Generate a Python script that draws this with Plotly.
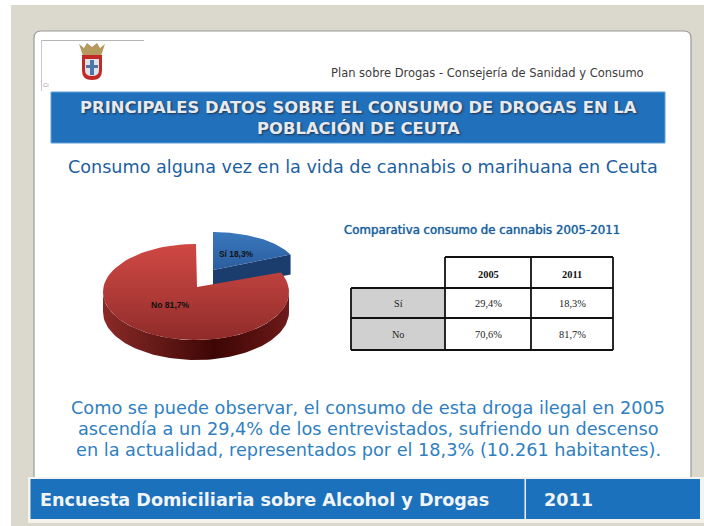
import numpy as np
import plotly.graph_objects as go

W, H = 704, 526
pie_labels = ["Sí", "No"]
pie_values = [18.3, 81.7]
pie_text = ["Sí 18,3%", "No 81,7%"]
table_columns = ["2005", "2011"]
table_rows = ["Sí", "No"]
table_2005 = ["29,4%", "70,6%"]
table_2011 = ["18,3%", "81,7%"]

fig = go.Figure()
shapes, ann = [], []

def rect(x0, y0, x1, y1, fill, line=None, lw=0):
    shapes.append(dict(type="rect", x0=x0, y0=y0, x1=x1, y1=y1, fillcolor=fill,
                       line=dict(color=line or fill, width=lw), layer="below"))

def text(x, y, s, size, color, family="DejaVu Sans", anchor="center", bold=False, shadow=None):
    f = dict(size=size, color=color, family=family)
    if bold: f["weight"] = "bold"
    if shadow: f["shadow"] = shadow
    ann.append(dict(x=x, y=y, text=s, showarrow=False, font=f, xanchor=anchor, yanchor="middle",
                    xref="x", yref="y"))

# page background and card
rect(11, 5, W, H, "#dbd8cd")
shapes.append(dict(type="path", layer="below", fillcolor="#ffffff", line=dict(color="#9a9a98", width=1.2),
                   path="M34,480 L34,38 Q34,31 41,31 L684,31 Q691,31 691,38 L691,480 Z"))
# logo box lines
shapes.append(dict(type="line", x0=41, y0=40.5, x1=144, y1=40.5, line=dict(color="#b5b5b5", width=1), layer="below"))
shapes.append(dict(type="line", x0=41.5, y0=40, x1=41.5, y1=91, line=dict(color="#c8c8c8", width=1), layer="below"))
text(46, 85, "Ci", 6, "#9a9a9a", "Liberation Sans")
# crest
shapes.append(dict(type="path", layer="below", fillcolor="#b49a5c", line=dict(width=0),
                   path="M79,44 L84,48 L87,43 L92,47 L97,43 L100,48 L105,44 L101,56 L83,56 Z"))
shapes.append(dict(type="path", layer="below", fillcolor="#c22a28", line=dict(width=0),
                   path="M82,55 L102,55 L102,71 Q102,80 92,80 Q82,80 82,71 Z"))
shapes.append(dict(type="path", layer="below", fillcolor="#dfe4ea", line=dict(width=0),
                   path="M85,59 L99,59 L99,70 Q99,76 92,76 Q85,76 85,70 Z"))
shapes.append(dict(type="path", layer="below", fillcolor="#4f74a8", line=dict(width=0),
                   path="M90,60 L94,60 L94,65 L98,65 L98,68 L94,68 L94,75 L90,75 L90,68 L86,68 L86,65 L90,65 Z"))

text(487.5, 73, "Plan sobre Drogas - Consejería de Sanidad y Consumo", 11.5, "#3c3c3c")
# banner
rect(51, 92, 665, 143, "#2070bb", "#5fa0d8", 1)
sh = "1px 1px 2px #22324a"
text(358, 107, "PRINCIPALES DATOS SOBRE EL CONSUMO DE DROGAS EN LA", 16.4, "#e6eaf0", "DejaVu Sans", bold=True, shadow=sh)
text(358, 128, "POBLACIÓN DE CEUTA", 16.4, "#e6eaf0", "DejaVu Sans", bold=True, shadow=sh)
text(362.5, 167, "Consumo alguna vez en la vida de cannabis o marihuana en Ceuta", 17.6, "#1d5f9e")

# pie computed from values (clockwise from 12 o'clock)
def arc(cx, cy, rx, ry, a0, a1, n=90):
    t = np.radians(np.linspace(a0, a1, n))
    return cx + rx * np.sin(t), cy - ry * np.cos(t)

shares = np.array(pie_values) / sum(pie_values) * 360
blue_end = shares[0]
# blue exploded slice
bx, by = 213, 270
brx, bry, bd = 85, 38, 20
ex, ey = bx + brx*np.sin(np.radians(blue_end)), by - bry*np.cos(np.radians(blue_end))
fig.add_trace(go.Scatter(x=[bx, ex, ex, bx, bx], y=[by, ey, ey + bd, by + bd, by],
                         fill="toself", mode="lines", line=dict(width=0), fillcolor="#1b3d6e", hoverinfo="skip"))
xt, yt = arc(bx, by, brx, bry, 0, blue_end)
fig.add_trace(go.Scatter(x=[bx, *xt, bx], y=[by, *yt, by], fill="toself", mode="lines", line=dict(width=0),
                         fillgradient=dict(type="vertical", colorscale=[[0, "#2a5d9f"], [1, "#3b78bd"]]), hoverinfo="skip"))
# red
rcx, rcy = 196, 292
rrx, rry, rd = 93, 48, 20
xa, ya = arc(rcx, rcy, rrx, rry, 90, 270)
fig.add_trace(go.Scatter(x=[*xa, *xa[::-1]], y=[*ya, *(ya[::-1] + rd)], fill="toself", mode="lines", line=dict(width=0),
                         fillgradient=dict(type="horizontal", colorscale=[[0, "#8a2a28"], [0.25, "#6a1c1a"], [0.6, "#3d0604"], [0.85, "#5a1210"], [1, "#6d1c1a"]]),
                         hoverinfo="skip"))
xt, yt = arc(rcx, rcy, rrx, rry, blue_end, 360)
ax, ay = 197, 287
fig.add_trace(go.Scatter(x=[ax, *xt, ax], y=[ay, *yt, ay], fill="toself", mode="lines", line=dict(width=0),
                         fillgradient=dict(type="vertical", colorscale=[[0, "#8e2b29"], [0.45, "#ae3a37"], [1, "#d04844"]]),
                         hoverinfo="skip"))
text(236, 254, pie_text[0], 8.4, "#111111", "Liberation Sans", bold=True)
text(170, 305, pie_text[1], 8.6, "#111111", "Liberation Sans", bold=True)

# table
text(481.5, 230, "Comparativa consumo de cannabis 2005-2011", 11.8, "#1d5f9e", "DejaVu Sans", shadow="0 0 1px #1d5f9e")
colx = [351, 445, 531, 613]
rowy = [257, 288, 318, 350]
for i in range(2):
    rect(colx[0], rowy[i+1], colx[1], rowy[i+2], "#d0d0d0")
lc = dict(color="#111111", width=1.8)
for y, x0 in zip(rowy, [colx[1], colx[0], colx[0], colx[0]]):
    shapes.append(dict(type="line", x0=x0, x1=colx[3], y0=y, y1=y, line=lc))
for x, y0 in zip(colx, [rowy[1], rowy[0], rowy[0], rowy[0]]):
    shapes.append(dict(type="line", x0=x, x1=x, y0=y0, y1=rowy[3], line=lc))
tf = "Liberation Serif"
for c, lab in enumerate(table_columns):
    text((colx[c+1] + colx[c+2]) / 2, 274, lab, 10.4, "#111111", tf, bold=True)
for r, lab in enumerate(table_rows):
    cy = (rowy[r+1] + rowy[r+2]) / 2
    text((colx[0] + colx[1]) / 2, cy, lab, 10.2, "#222222", tf)
    text((colx[1] + colx[2]) / 2, cy, table_2005[r], 10.4, "#222222", tf)
    text((colx[2] + colx[3]) / 2, cy, table_2011[r], 10.4, "#222222", tf)

# body text
body = ["Como se puede observar, el consumo de esta droga ilegal en 2005",
        "ascendía a un 29,4% de los entrevistados, sufriendo un descenso",
        "en la actualidad, representados por el 18,3% (10.261 habitantes)."]
for y, s, in zip([408, 429, 450], body):
    text(368, y, s, 17.7, "#2f7fc1")

# footer
rect(28, 477, W, 523, "#f4f3ee")
rect(30.5, 479, 524.5, 519, "#1c71bd")
rect(526, 479, 700, 519, "#1c71bd")
text(38, 500, "Encuesta Domiciliaria sobre Alcohol y Drogas", 17.6, "#f2f5f8", anchor="left", bold=True)
text(542, 500, "2011", 17.6, "#f2f5f8", anchor="left", bold=True)

fig.update_layout(width=W, height=H, margin=dict(l=0, r=0, t=0, b=0), showlegend=False,
                  paper_bgcolor="#ffffff", plot_bgcolor="#ffffff", shapes=shapes, annotations=ann,
                  xaxis=dict(range=[0, W], visible=False, fixedrange=True),
                  yaxis=dict(range=[H, 0], visible=False, fixedrange=True))
fig.write_html("out.html", config=dict(displayModeBar=False),
               post_script="document.body.style.margin='0';document.body.style.overflow='hidden';")
